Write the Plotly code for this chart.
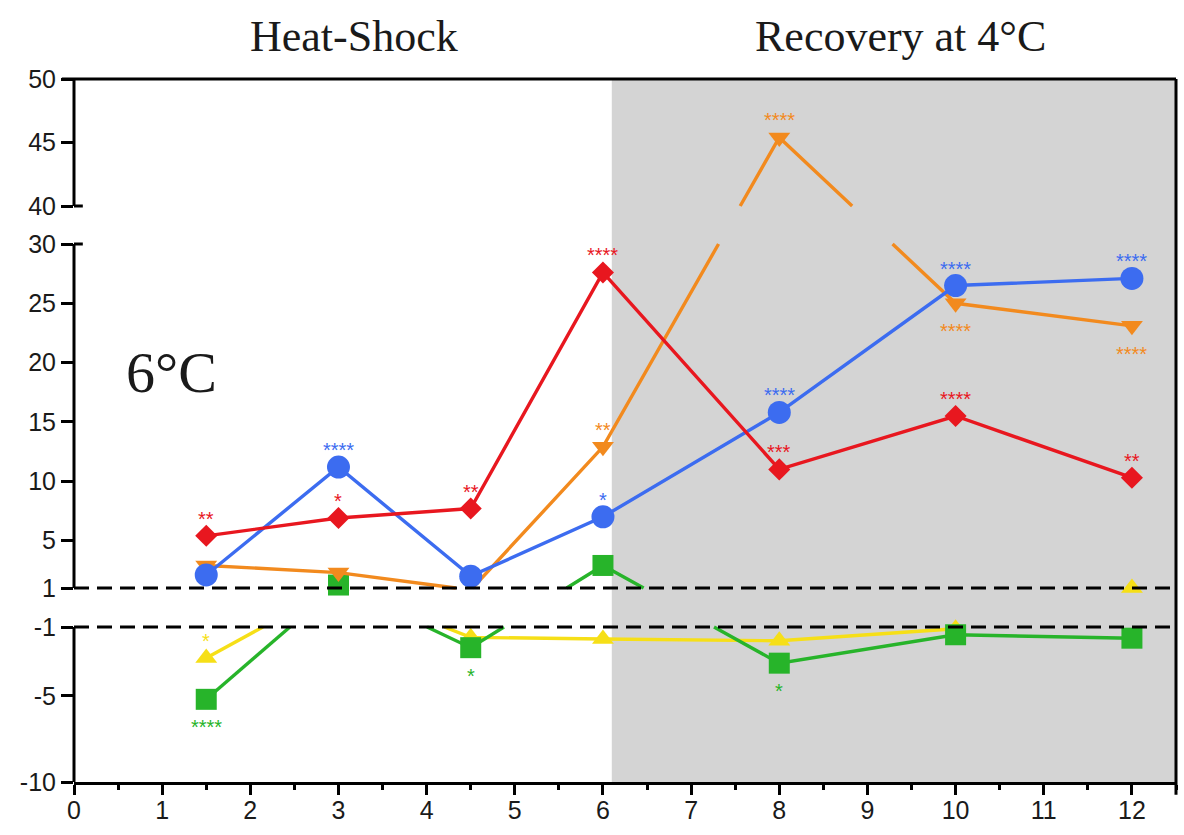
import numpy as np
import plotly.graph_objects as go

# ---- data -------------------------------------------------------------
days = [1.5, 3, 4.5, 6, 8, 10, 12]

red_vals = [5.4, 6.9, 7.7, 27.6, 11.0, 15.5, 10.3]
blue_vals = [2.1, 11.2, 2.0, 7.0, 15.8, 26.5, 27.1]
orange_vals = [2.9, 2.3, 0.9, 12.9, 45.4, 25.0, 23.1]
yellow_vals = [-2.8, 1.2, -1.6, -1.7, -1.8, -1.1, 1.0]
green_vals = [-5.2, 1.25, -2.2, 2.9, -3.1, -1.45, -1.65]

red_stars = ["**", "*", "**", "****", "***", "****", "**"]
blue_stars = ["", "****", "", "*", "****", "****", "****"]
orange_stars = ["", "", "", "**", "****", "****", "****"]
yellow_stars = ["*", "", "", "", "", "", ""]
green_stars = ["****", "", "*", "", "*", "", ""]

# +1 = above the point, -1 = below the point
red_side = [1, 1, 1, 1, 1, 1, 1]
blue_side = [1, 1, 1, 1, 1, 1, 1]
orange_side = [1, 1, 1, 1, 1, -1, -1]
yellow_side = [1, 1, 1, 1, 1, 1, 1]
green_side = [-1, -1, -1, -1, -1, -1, -1]

y_tick_values = [50, 45, 40, 30, 25, 20, 15, 10, 5, 1, -1, -5, -10]
x_tick_values = list(range(13))

# ---- broken y scale -----------------------------------------------------
# value breakpoints and their positions on a continuous drawing axis
VALUE_BREAKS = [-10, -1, 1, 30, 40, 50]
AXIS_BREAKS = [0, 155, 194, 538, 576, 703]
GAP_VALUES = [(-1, 1), (30, 40)]


def to_axis(v):
    return float(np.interp(v, VALUE_BREAKS, AXIS_BREAKS))


GAPS = [(to_axis(a), to_axis(b)) for a, b in GAP_VALUES]


def visible_path(xs, vals):
    """Straight segments between points, with the parts inside the gaps removed."""
    ds = [to_axis(v) for v in vals]
    px, py = [], []
    last = None
    for x0, d0, x1, d1 in zip(xs[:-1], ds[:-1], xs[1:], ds[1:]):
        ts = {0.0, 1.0}
        for lo, hi in GAPS:
            for b in (lo, hi):
                if (d0 - b) * (d1 - b) < 0:
                    ts.add((b - d0) / (d1 - d0))
        ts = sorted(ts)
        for ta, tb in zip(ts[:-1], ts[1:]):
            dm = d0 + 0.5 * (ta + tb) * (d1 - d0)
            if any(lo < dm < hi for lo, hi in GAPS):
                continue
            a = (x0 + ta * (x1 - x0), d0 + ta * (d1 - d0))
            b = (x0 + tb * (x1 - x0), d0 + tb * (d1 - d0))
            if last is not None and abs(last[0] - a[0]) < 1e-9 and abs(last[1] - a[1]) < 1e-9:
                px.append(b[0])
                py.append(b[1])
            else:
                if px:
                    px.append(None)
                    py.append(None)
                px += [a[0], b[0]]
                py += [a[1], b[1]]
            last = b
    return px, py


def in_gap(v):
    return any(lo < v < hi for lo, hi in GAP_VALUES)


# ---- figure -------------------------------------------------------------
RED = "#e8171f"
BLUE = "#3c6cf0"
ORANGE = "#f28a1e"
YELLOW = "#f6df17"
GREEN = "#27b42a"
SHADE = "#d4d4d4"
INK = "#1a1a1a"

series = [
    ("yellow", yellow_vals, YELLOW, "triangle-up", 19, yellow_stars, yellow_side),
    ("green", green_vals, GREEN, "square", 21, green_stars, green_side),
    ("orange", orange_vals, ORANGE, "triangle-down", 19, orange_stars, orange_side),
    ("blue", blue_vals, BLUE, "circle", 23, blue_stars, blue_side),
    ("red", red_vals, RED, "diamond", 17, red_stars, red_side),
]

fig = go.Figure()

for name, vals, color, symbol, size, stars, side in series:
    lx, ly = visible_path(days, vals)
    fig.add_trace(go.Scatter(x=lx, y=ly, mode="lines", name=name,
                             line=dict(color=color, width=3.4),
                             hoverinfo="skip", showlegend=False))
    mx = [d for d, v in zip(days, vals) if not in_gap(v)]
    my = [to_axis(v) for v in vals if not in_gap(v)]
    fig.add_trace(go.Scatter(x=mx, y=my, mode="markers", name=name,
                             marker=dict(color=color, symbol=symbol, size=size,
                                         line=dict(width=0)),
                             cliponaxis=False, showlegend=False))

annotations = []
for name, vals, color, symbol, size, stars, side in series:
    for d, v, s, sd in zip(days, vals, stars, side):
        if not s:
            continue
        annotations.append(dict(
            x=d, y=to_axis(v), xref="x", yref="y", text=s, showarrow=False,
            yanchor="middle", yshift=17 if sd > 0 else -28,
            font=dict(family="Liberation Sans", size=20, color=color)))

annotations += [
    dict(x=3.18, y=1.061, xref="x", yref="paper", text="Heat-Shock", showarrow=False,
         xanchor="center", yanchor="middle",
         font=dict(family="Liberation Serif", size=44, color=INK)),
    dict(x=9.37, y=1.061, xref="x", yref="paper", text="Recovery at 4°C", showarrow=False,
         xanchor="center", yanchor="middle",
         font=dict(family="Liberation Serif", size=44, color=INK)),
    dict(x=1.11, y=0.582, xref="x", yref="paper", text="6°C", showarrow=False,
         xanchor="center", yanchor="middle",
         font=dict(family="Liberation Serif", size=58, color=INK)),
]

shapes = [
    # recovery period background
    dict(type="rect", xref="x", yref="paper", x0=6.1, x1=12.5, y0=0, y1=1,
         fillcolor=SHADE, line=dict(width=0), layer="below"),
    # frame: top and right edges
    dict(type="line", xref="paper", yref="paper", x0=-0.011, x1=1, y0=1, y1=1,
         line=dict(color="black", width=3), layer="above"),
    dict(type="line", xref="paper", yref="paper", x0=1, x1=1, y0=-0.018, y1=1,
         line=dict(color="black", width=3), layer="above"),
]

# dashed limits at +1 and -1
for v in (1, -1):
    shapes.append(dict(type="line", xref="paper", yref="y", x0=0, x1=1,
                       y0=to_axis(v), y1=to_axis(v),
                       line=dict(color="black", width=3, dash="15px,8px"), layer="above"))

# y axis line drawn piecewise, interrupted at the gaps
for lo, hi in [(-10, -1), (1, 30), (40, 50)]:
    shapes.append(dict(type="line", xref="paper", yref="y", x0=0, x1=0,
                       y0=to_axis(lo), y1=to_axis(hi),
                       line=dict(color="black", width=3), layer="above"))
# break marks on the inner side of the axis at 30 and 40
for v in (30, 40):
    shapes.append(dict(type="line", xref="paper", yref="y", x0=0, x1=0.008,
                       y0=to_axis(v), y1=to_axis(v),
                       line=dict(color="black", width=3), layer="above"))

fig.update_layout(
    width=1184, height=835,
    margin=dict(l=74, r=8, t=79, b=53),
    paper_bgcolor="white", plot_bgcolor="white",
    showlegend=False,
    shapes=shapes, annotations=annotations,
    xaxis=dict(range=[0, 12.5], showgrid=False, zeroline=False,
               showline=True, linecolor="black", linewidth=3,
               ticks="outside", ticklen=10, tickwidth=3, tickcolor="black",
               tickvals=x_tick_values, ticktext=[str(t) for t in x_tick_values],
               ticklabelstandoff=-6,
               minor=dict(dtick=0.5, tick0=0, ticks="outside", ticklen=5,
                          tickwidth=3, tickcolor="black"),
               tickfont=dict(family="Liberation Sans", size=25, color=INK)),
    yaxis=dict(range=[0, 703], showgrid=False, zeroline=False, showline=False,
               ticks="outside", ticklen=12, tickwidth=3, tickcolor="black",
               tickvals=[to_axis(v) for v in y_tick_values],
               ticktext=[str(v) for v in y_tick_values],
               tickfont=dict(family="Liberation Sans", size=25, color=INK)),
)

fig.write_html("out.html")
